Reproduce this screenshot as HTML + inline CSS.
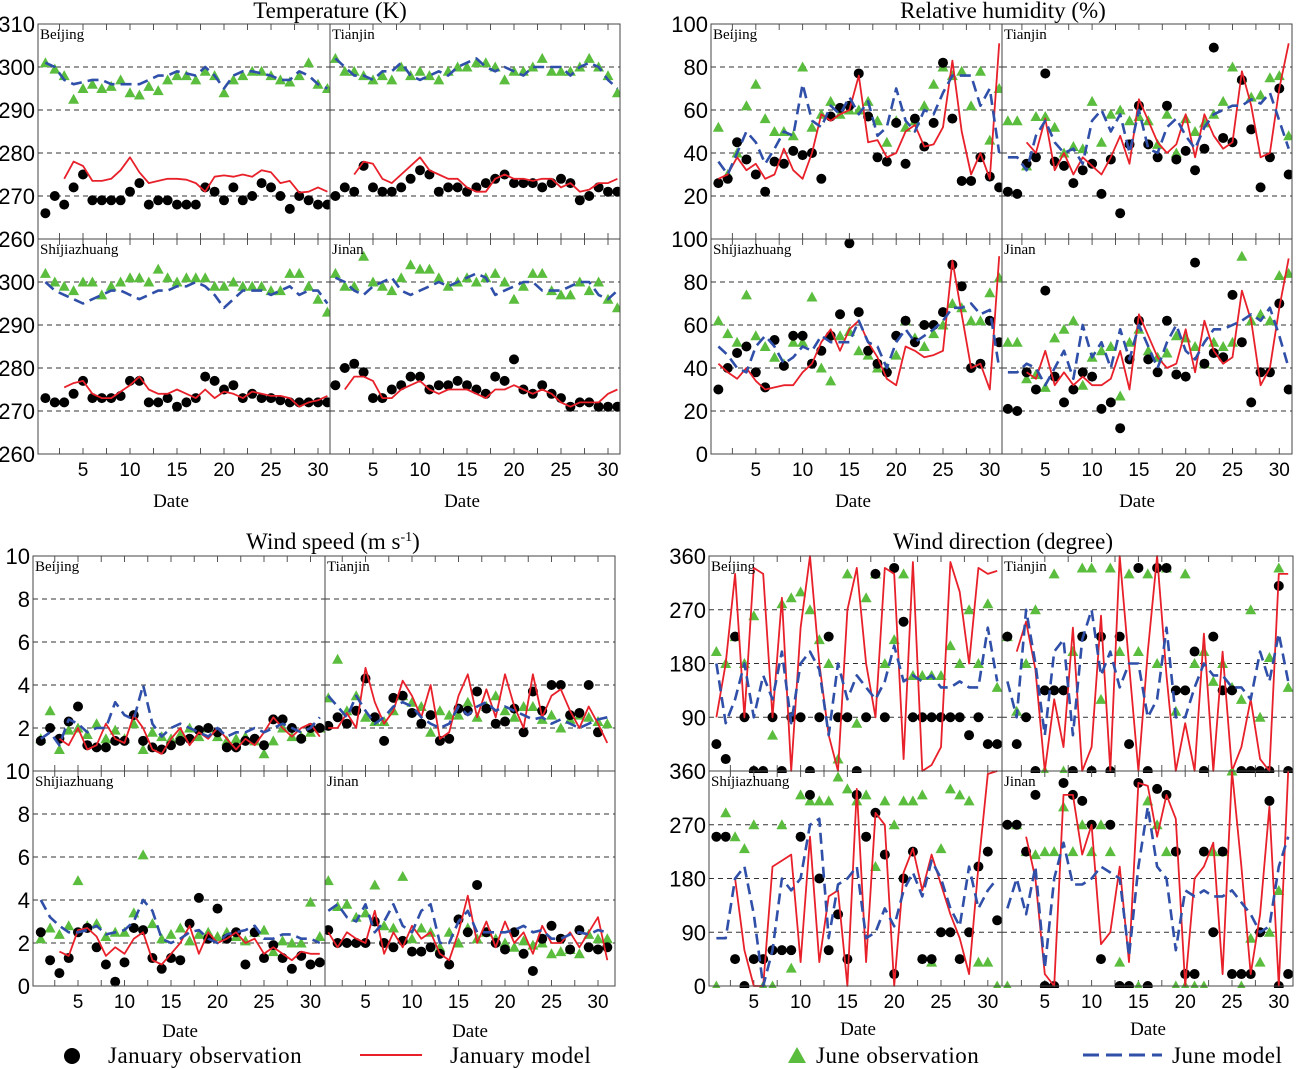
<!DOCTYPE html>
<html><head><meta charset="utf-8">
<style>
html,body{margin:0;padding:0;background:#fff;}
svg{display:block;}
.ax{font-family:"Liberation Sans",sans-serif;font-size:22px;fill:#000;}
.st{font-family:"Liberation Serif",serif;font-size:15px;fill:#000;}
.tt{font-family:"Liberation Serif",serif;font-size:23px;fill:#000;}
.dt{font-family:"Liberation Serif",serif;font-size:19px;fill:#000;}
.lg{font-family:"Liberation Serif",serif;font-size:23px;fill:#000;letter-spacing:0.5px;}
</style></head>
<body>
<svg id="chart" width="1300" height="1069" viewBox="0 0 1300 1069" xmlns="http://www.w3.org/2000/svg">
<g id="layer"></g>
<g>
<circle cx="72" cy="1056" r="8" fill="#000"/>
<text class="lg" x="108" y="1063">January  observation</text>
<line x1="360" y1="1055" x2="422" y2="1055" stroke="#e8202a" stroke-width="2"/>
<text class="lg" x="450" y="1063">January  model</text>
<polygon points="788,1063 806,1063 797,1047" fill="#5bbd3e"/>
<text class="lg" x="816" y="1063">June observation</text>
<line x1="1083" y1="1055" x2="1162" y2="1055" stroke="#2f4fa8" stroke-width="3" stroke-dasharray="16,7"/>
<text class="lg" x="1172" y="1063">June model</text>
</g>
</svg>
<script>
const N=null;
// Temperature (K)
const T_BJ_JO=[266,270,268,272,275,269,269,269,269,271,273,268,269,269,268,268,268,272,271,269,272,269,270,273,272,270,267,270,269,268,268];
const T_BJ_JM=[N,N,274,278,277,273.5,273.5,274,276,279,275.5,273,273.5,274,274,273.8,273,271,274.5,274.8,274.5,275,274.5,276,275.5,273,273.5,270.8,271,272,271];
const T_BJ_UO=[301,299.5,298,292.5,295,296,295,295.5,297,294,293.5,295.5,294.5,297,298,298,297,299,298,294,297,298,299,299,298,297,296.5,298,301,296,295];
const T_BJ_UM=[301,300,297,296,296.5,297,297,296,296,296,296,297,298,298,299,298.5,298,300,298,295,298,299,299,298.5,298,297,297,299,298,296,295];
const T_TJ_JO=[270,272,271,277,272,271,271,272,274,276,275,271,272,272,271,272,273,274,275,273,273,273,272,273,274,273,269,270,272,271,271];
const T_TJ_JM=[N,N,275,278,277.5,274,273,275,277,279,276,275,274,274,272,271,271,274,275,274,274,273.5,274,274,272,273,271,271.5,273,273,274];
const T_TJ_UO=[302,299,299,298,297,298,297,300,298,299,298,297,299,300,300,301,301,300,297,299,299,300,302,299,299,299,300,302,300,298,294];
const T_TJ_UM=[302,300,298,298,297,299,299,301,298,297,298,299,298,300,301,302,300,299,300,299,298,300,300,300,300,298,300,301,300,297,295];
const T_SJ_JO=[273,272,272,274,277,273,273,273,273.5,277,277,272,272,273,271,272,273,278,277,275,276,273,274,273,273,272.5,272,272,272,272,272];
const T_SJ_JM=[N,N,275.5,276.5,277,274,273,273,274.5,276,278,275,274,274,275,274,273,275,273,274.5,274,273,274.5,274,273.5,273.5,273,271,272,272.5,273.5];
const T_SJ_UO=[302,300,299,298,300,300,297,299,300,301,301,300,303,301,300,301,301,301,299,299,300,299,299,299,298,298,302,302,299,296,293];
const T_SJ_UM=[300,298,297,296,295,296,297,298,298,297,296,297,298,298,299,299,300,299,297,294,296,298,298,298,297,298,299,297,298,298,295];
const T_JN_JO=[276,280,281,279,273,273,275,276,278,278,275,276,276,277,276,275,274,278,277,282,275,274,276,274,273,271,272,272,271,271,271];
const T_JN_JM=[N,275,278,278,277,273,273,275,276,277,275,274,275,275,275,274,273,275,275,276,275,274,275,274,272,271,272,272,272,274,275];
const T_JN_UO=[302,299,299,306,300,299,298,301,304,303,303,301,299,300,301,300,301,302,300,296,299,302,302,298,297,297,300,298,300,296,294];
const T_JN_UM=[301,300,298,297,299,300,301,298,297,298,299,300,299,300,301,302,301,297,298,299,300,300,298,298,298,299,300,300,297,296,298];
// Relative humidity (%)
const H_BJ_JO=[26,28,45,37,30,22,36,35,41,39,40,28,57,61,62,77,57,38,36,54,35,56,43,54,82,56,27,27,38,29,24];
const H_BJ_JM=[28,30,38,32,35,28,30,42,32,28,40,58,55,58,60,76,45,46,38,40,50,53,43,44,52,83,50,30,40,28,91];
const H_BJ_UO=[52,30,40,62,72,56,50,50,48,80,52,58,64,58,60,60,64,55,45,55,52,55,62,72,80,76,78,62,78,46,70];
const H_BJ_UM=[36,30,40,50,45,35,42,50,48,72,55,52,62,58,66,58,64,48,52,70,55,50,60,58,68,76,76,76,62,70,40];
const H_TJ_JO=[22,21,35,38,77,36,34,26,32,35,21,37,12,44,62,44,38,62,37,41,32,42,89,47,45,74,51,24,38,70,30];
const H_TJ_JM=[N,N,45,40,56,32,40,30,38,34,30,38,48,35,65,55,45,40,44,58,38,58,48,42,45,78,62,38,40,70,91];
const H_TJ_UO=[55,55,34,57,57,52,40,43,42,64,45,58,60,55,57,55,44,58,40,56,50,54,58,64,80,75,66,67,75,76,48];
const H_TJ_UM=[38,38,32,48,55,45,40,42,35,55,60,50,58,40,60,42,40,52,56,48,42,52,58,60,62,62,65,63,68,55,42];
const H_SJ_JO=[30,40,47,50,38,31,53,41,55,55,42,48,55,65,98,66,48,42,38,55,62,52,60,60,66,88,78,40,42,62,52];
const H_SJ_JM=[42,38,35,40,34,30,31,32,32,38,42,52,58,48,58,62,52,45,35,32,50,48,45,46,48,90,65,40,42,30,92];
const H_SJ_UO=[62,56,52,74,55,50,45,42,52,52,73,40,34,55,57,48,46,40,40,46,62,54,50,56,60,70,68,62,62,75,82];
const H_SJ_UM=[50,46,40,38,50,55,50,42,45,50,48,55,52,52,52,62,52,50,40,52,58,52,55,58,62,68,68,70,65,67,40];
const H_JN_JO=[21,20,38,30,76,36,24,30,38,36,21,24,12,44,62,44,38,62,37,36,89,42,47,45,74,52,24,38,38,70,30];
const H_JN_JM=[N,N,38,35,48,32,38,32,36,32,32,35,48,30,65,55,45,40,42,58,38,62,48,42,45,76,62,32,40,68,91];
const H_JN_UO=[52,52,35,37,31,54,58,62,32,45,48,50,27,52,58,48,45,47,55,54,50,42,52,50,52,92,62,65,62,83,84];
const H_JN_UM=[38,38,42,40,32,40,48,35,60,45,52,40,58,44,60,50,40,52,60,48,44,52,58,58,60,62,65,62,68,55,40];
// Wind speed (m/s)
const W_BJ_JO=[1.4,2.0,1.5,2.3,3.0,1.2,1.1,1.1,1.4,1.4,2.6,1.4,1.1,1.0,1.2,1.4,1.5,1.9,2.0,1.8,1.1,1.1,1.4,1.5,1.2,2.4,2.4,2.0,1.5,2.0,2.0];
const W_BJ_JM=[N,N,1.5,1.2,2.0,1.0,1.2,2.2,1.5,1.3,2.6,2.0,1.0,0.8,1.5,2.0,1.2,1.8,1.5,2.0,1.5,1.0,1.5,1.2,1.8,2.5,2.0,1.6,2.0,2.2,1.6];
const W_BJ_UO=[1.5,2.8,1.0,1.9,2.0,1.7,2.2,1.5,1.9,1.5,2.2,1.0,1.8,1.6,1.5,1.7,2.0,1.6,2.0,1.6,1.4,1.5,1.6,1.4,0.8,1.4,2.0,1.6,1.6,1.8,2.0];
const W_BJ_UM=[1.5,1.8,1.2,2.4,2.2,1.8,2.0,2.0,3.2,2.6,2.4,4.0,2.2,1.6,2.0,2.2,2.0,1.8,1.6,2.0,1.6,1.8,1.8,2.0,1.8,2.0,2.2,2.0,1.8,2.0,2.5];
const W_TJ_JO=[2.1,2.5,2.2,2.8,4.3,2.5,1.4,3.4,3.5,2.7,2.2,2.6,1.4,1.5,2.9,2.8,3.7,2.9,2.2,2.3,2.9,1.8,3.7,2.8,4.0,4.0,2.6,2.7,4.0,1.8,N];
const W_TJ_JM=[2.0,2.0,2.7,2.0,4.8,3.2,2.2,2.8,4.2,3.5,2.5,4.0,1.5,1.8,3.5,4.5,2.5,3.8,2.5,4.5,3.0,2.0,4.5,2.5,3.5,3.8,2.8,2.0,3.0,2.2,1.3];
const W_TJ_UO=[3.4,5.2,2.8,3.5,2.5,2.3,2.3,2.8,3.5,3.2,3.0,1.8,2.8,2.6,2.6,3.2,2.5,3.0,3.5,2.8,2.5,3.0,3.0,2.4,2.6,2.0,2.4,2.6,2.5,2.3,2.2];
const W_TJ_UM=[3.5,3.0,2.5,3.5,2.8,2.2,2.5,3.0,3.2,3.0,2.5,2.2,2.0,2.2,3.0,2.6,3.0,3.2,2.8,3.0,2.8,2.6,2.4,2.5,2.2,2.4,2.2,2.0,2.2,2.4,2.5];
const W_SJ_JO=[2.5,1.2,0.6,1.3,2.5,2.7,1.8,1.0,0.2,1.1,2.7,2.6,1.3,0.8,1.3,1.2,2.9,4.1,2.2,3.6,2.2,2.5,1.0,2.5,1.3,1.9,1.3,0.8,1.4,1.0,1.1];
const W_SJ_JM=[N,N,1.6,1.4,2.6,2.7,2.3,1.4,1.8,1.5,2.2,2.5,1.2,1.0,1.5,2.0,2.8,1.5,2.5,2.0,2.2,2.5,2.0,2.2,1.5,1.8,1.5,1.2,1.6,1.5,1.5];
const W_SJ_UO=[2.2,2.7,2.4,2.8,4.9,2.8,2.9,2.3,2.5,2.5,3.4,6.1,2.9,2.2,2.4,2.7,2.1,2.4,2.5,2.3,2.5,2.3,2.1,2.5,2.6,1.6,2.1,2.0,2.0,3.9,2.3];
const W_SJ_UM=[4.0,3.2,2.8,2.5,2.5,2.6,2.8,2.4,2.5,2.6,3.0,4.0,3.5,2.2,2.0,2.2,2.5,2.6,2.2,2.0,2.4,2.5,2.6,2.8,2.2,2.2,2.4,2.4,2.2,2.2,2.0];
const W_JN_JO=[2.6,2.0,2.0,2.0,2.0,3.0,2.0,1.8,2.1,1.6,1.6,1.8,1.5,1.0,3.1,2.5,4.7,2.5,2.0,1.7,2.5,1.5,0.7,2.2,2.8,2.2,1.7,2.6,1.8,1.7,1.8];
const W_JN_JM=[2.5,1.8,2.5,2.2,2.0,3.5,1.5,2.5,1.8,2.8,2.2,2.5,1.5,1.2,2.5,4.2,2.0,3.0,1.8,3.0,2.0,2.5,1.5,2.8,2.0,2.0,2.5,1.8,2.5,3.2,1.2];
const W_JN_UO=[4.9,3.7,3.8,3.2,3.4,4.7,2.8,2.7,5.1,2.2,2.7,2.5,1.8,2.5,2.0,2.7,2.2,2.5,2.2,2.0,1.8,2.1,1.9,2.0,1.5,1.6,1.7,1.5,2.4,2.2,2.2];
const W_JN_UM=[3.5,3.8,3.2,3.0,3.8,2.5,3.0,3.8,2.8,2.5,3.5,3.8,2.0,2.0,3.0,3.5,2.5,2.5,2.5,2.5,2.6,2.8,2.5,2.6,2.2,2.2,2.4,2.5,2.4,2.6,2.5];
// Wind direction (degree)
const D_BJ_JO=[45,20,225,90,0,0,90,0,90,90,0,90,225,90,90,0,90,330,90,340,250,90,90,90,90,90,90,60,90,45,45];
const D_BJ_JM=[90,180,330,90,340,330,90,290,0,240,360,180,60,0,270,340,180,90,340,330,20,350,0,10,40,350,300,180,340,330,335];
const D_BJ_UO=[200,180,225,180,260,0,60,280,290,300,270,220,180,20,330,80,290,330,180,220,330,160,160,160,160,210,180,270,180,280,140];
const D_BJ_UM=[180,80,120,180,90,160,120,200,80,180,200,170,60,180,120,160,140,120,150,210,150,160,150,160,140,140,150,140,140,240,150];
const D_TJ_JO=[225,45,90,0,135,135,135,0,225,0,225,0,225,45,340,0,340,340,135,135,200,0,225,135,135,0,0,0,0,310,0];
const D_TJ_JM=[N,200,250,170,0,120,40,240,0,40,260,0,360,180,0,200,360,160,0,80,0,230,0,200,0,40,120,20,0,330,330];
const D_TJ_UO=[225,100,180,270,0,330,0,200,340,340,120,340,200,330,200,330,180,340,100,330,180,200,150,180,140,120,270,90,190,340,140];
const D_TJ_UM=[150,90,270,180,60,200,220,60,220,270,160,200,140,180,180,90,120,240,90,90,140,180,160,160,140,140,120,200,150,230,150];
const D_SJ_JO=[250,250,45,0,45,45,60,60,60,250,320,180,60,120,45,320,250,290,220,20,180,225,45,45,90,90,45,90,200,225,110];
const D_SJ_JM=[N,N,180,60,0,0,200,210,220,40,250,40,150,160,0,330,40,290,270,0,190,230,160,220,170,120,80,20,200,355,360];
const D_SJ_UO=[0,290,250,230,270,0,0,270,30,320,310,310,310,350,330,310,320,200,310,270,310,310,320,40,230,330,320,310,40,40,0];
const D_SJ_UM=[80,80,180,200,120,0,60,180,160,180,270,280,80,170,180,200,80,90,130,100,160,190,150,210,180,130,100,200,130,160,180];
const D_JN_JO=[270,270,225,320,0,0,340,320,310,270,45,270,0,0,340,0,330,320,225,20,20,225,90,225,20,20,20,90,310,0,20];
const D_JN_JM=[N,N,250,180,20,0,320,320,220,270,70,90,200,40,340,335,250,320,280,0,180,200,240,20,360,200,20,120,300,0,360];
const D_JN_UO=[0,270,225,220,225,225,300,225,270,225,270,225,40,0,0,310,270,225,0,0,0,0,225,225,360,0,80,40,90,160,N];
const D_JN_UM=[130,180,120,200,30,180,240,170,170,180,200,190,180,50,200,300,200,180,60,160,150,160,150,150,160,140,120,90,100,200,250];

const xTicks=[5,10,15,20,25,30];
const NS='http://www.w3.org/2000/svg';
const layer=document.getElementById('layer');
function mk(tag,attrs,parent){const e=document.createElementNS(NS,tag);for(const k in attrs)e.setAttribute(k,attrs[k]);(parent||layer).appendChild(e);return e;}

function panel(p,name,station,jo,jm,uo,um){
  const g=mk('g',{});
  
  
  const xs=d=>p.day0+d*p.dx;
  const ys=v=>p.bot-(v-p.min)/(p.max-p.min)*(p.bot-p.top);
  p.grid.forEach(v=>{const l=mk('line',{x1:p.l,x2:p.r,y1:ys(v),y2:ys(v),stroke:'#333','stroke-width':1,'stroke-dasharray':'5,4'},g);
    
    });
  for(let d=2.5;p.day0+d*p.dx<p.r-2;d+=2.5){
    mk('line',{x1:xs(d),x2:xs(d),y1:p.top,y2:p.top+6,stroke:'#555','stroke-width':1},g);
    mk('line',{x1:xs(d),x2:xs(d),y1:p.bot,y2:p.bot-6,stroke:'#555','stroke-width':1},g);
  }
  const clipId='c'+name;
  const cp=mk('clipPath',{id:clipId},g);mk('rect',{x:p.l,y:p.top-2,width:p.r-p.l,height:p.bot-p.top+4},cp);
  const s=mk('g',{'clip-path':'url(#'+clipId+')'},g);
  function line(arr,color,w,dash,nm){let d='',pen=false;arr.forEach((v,i)=>{if(v===null){pen=false;return;}d+=(pen?'L':'M')+xs(i+1).toFixed(1)+','+ys(v).toFixed(1);pen=true;});
    const a={d:d,fill:'none',stroke:color,'stroke-width':w,'stroke-linejoin':'round'};if(dash)a['stroke-dasharray']=dash;
    const e=mk('path',a,s);
    
    }
  uo.forEach((v,i)=>{if(v===null)return;const x=xs(i+1),y=ys(v);
    const t=mk('polygon',{points:(x-5.5)+','+(y+4.5)+' '+(x+5.5)+','+(y+4.5)+' '+x+','+(y-5.5),fill:'#5bbd3e'},s);
    
    });
  jo.forEach((v,i)=>{if(v===null)return;
    const c=mk('circle',{cx:xs(i+1),cy:ys(v),r:5,fill:'#000'},s);
    
    });
  line(jm,'#e8202a',1.8,null,'jan-model-line');
  line(um,'#2f4fa8',2.6,'11,6','june-model-line');
  mk('rect',{x:p.l,y:p.top,width:p.r-p.l,height:p.bot-p.top,fill:'none',stroke:'#444','stroke-width':1},g);
  const st=mk('text',{x:p.l+2,y:p.top+15,class:'st'},g);st.textContent=station;
  
  
  if(p.xlab){xTicks.forEach(t=>{const e=mk('text',{x:xs(t),y:p.bot+22,'text-anchor':'middle',class:'ax',style:'font-size:19px'},g);e.textContent=t;
    
    });}
}
function yLabels(x,top,bot,min,max,vals,nm){vals.forEach(v=>{const y=bot-(v-min)/(max-min)*(bot-top);
  const e=mk('text',{x:x,y:y+8,'text-anchor':'end',class:'ax'});e.textContent=v;
  
  });}
function txt(s,x,y,cls,nm,anchor){const e=mk('text',{x:x,y:y,class:cls,'text-anchor':anchor||'middle'});e.textContent=s;
  
  return e;}

function quad(Q,min,max,grid,stations,arrs,yTop,yBot){
  const P=[[Q.Ll,Q.Lr,Q.d0L,Q.t,Q.m,false],[Q.Lr,Q.Rr,Q.d0R,Q.t,Q.m,false],[Q.Ll,Q.Lr,Q.d0L,Q.m,Q.b,true],[Q.Lr,Q.Rr,Q.d0R,Q.m,Q.b,true]];
  P.forEach((q,i)=>{panel({l:q[0],r:q[1],day0:q[2],dx:Q.dx,top:q[3],bot:q[4],min:min,max:max,grid:grid,xlab:q[5]},Q.name+'-'+i,stations[i],arrs[i][0],arrs[i][1],arrs[i][2],arrs[i][3]);});
  yLabels(Q.Ll-3,Q.t,Q.m,min,max,yTop,'y-tick-label');
  yLabels(Q.Ll-3,Q.m,Q.b,min,max,yBot,'y-tick-label');
}
const ST=['Beijing','Tianjin','Shijiazhuang','Jinan'];
quad({name:'temp',Ll:38,Lr:330,Rr:620,d0L:36,d0R:326,dx:9.4,t:24,m:239,b:454},260,310,[270,280,290,300],ST,
 [[T_BJ_JO,T_BJ_JM,T_BJ_UO,T_BJ_UM],[T_TJ_JO,T_TJ_JM,T_TJ_UO,T_TJ_UM],[T_SJ_JO,T_SJ_JM,T_SJ_UO,T_SJ_UM],[T_JN_JO,T_JN_JM,T_JN_UO,T_JN_UM]],
 [310,300,290,280,270,260],[300,290,280,270,260]);
quad({name:'rh',Ll:711,Lr:1002,Rr:1292,d0L:709,d0R:998.5,dx:9.36,t:24,m:239,b:454},0,100,[20,40,60,80],ST,
 [[H_BJ_JO,H_BJ_JM,H_BJ_UO,H_BJ_UM],[H_TJ_JO,H_TJ_JM,H_TJ_UO,H_TJ_UM],[H_SJ_JO,H_SJ_JM,H_SJ_UO,H_SJ_UM],[H_JN_JO,H_JN_JM,H_JN_UO,H_JN_UM]],
 [100,80,60,40,20],[100,80,60,40,20,0]);
quad({name:'ws',Ll:33,Lr:325,Rr:615,d0L:31.5,d0R:319,dx:9.3,t:556,m:771,b:986},0,10,[2,4,6,8],ST,
 [[W_BJ_JO,W_BJ_JM,W_BJ_UO,W_BJ_UM],[W_TJ_JO,W_TJ_JM,W_TJ_UO,W_TJ_UM],[W_SJ_JO,W_SJ_JM,W_SJ_UO,W_SJ_UM],[W_JN_JO,W_JN_JM,W_JN_UO,W_JN_UM]],
 [10,8,6,4,2],[10,8,6,4,2,0]);
quad({name:'wd',Ll:709,Lr:1002,Rr:1293,d0L:707,d0R:998,dx:9.36,t:556,m:771,b:986},0,360,[90,180,270],ST,
 [[D_BJ_JO,D_BJ_JM,D_BJ_UO,D_BJ_UM],[D_TJ_JO,D_TJ_JM,D_TJ_UO,D_TJ_UM],[D_SJ_JO,D_SJ_JM,D_SJ_UO,D_SJ_UM],[D_JN_JO,D_JN_JM,D_JN_UO,D_JN_UM]],
 [360,270,180,90],[360,270,180,90,0]);

txt('Temperature (K)',330,18,'tt','temperature-title');
txt('Relative humidity (%)',1003,18,'tt','humidity-title');
const ws=txt('',333,549,'tt','wind-speed-title');ws.innerHTML='Wind speed (m s<tspan dy="-8" font-size="14">-1</tspan><tspan dy="8">)</tspan>';
txt('Wind direction (degree)',1003,549,'tt','wind-direction-title');
[[171,507],[462,507],[853,507],[1137,507],[180,1037],[470,1037],[858,1035],[1148,1035]].forEach(p=>txt('Date',p[0],p[1],'dt','x-axis-title'));
</script>
</body></html>
